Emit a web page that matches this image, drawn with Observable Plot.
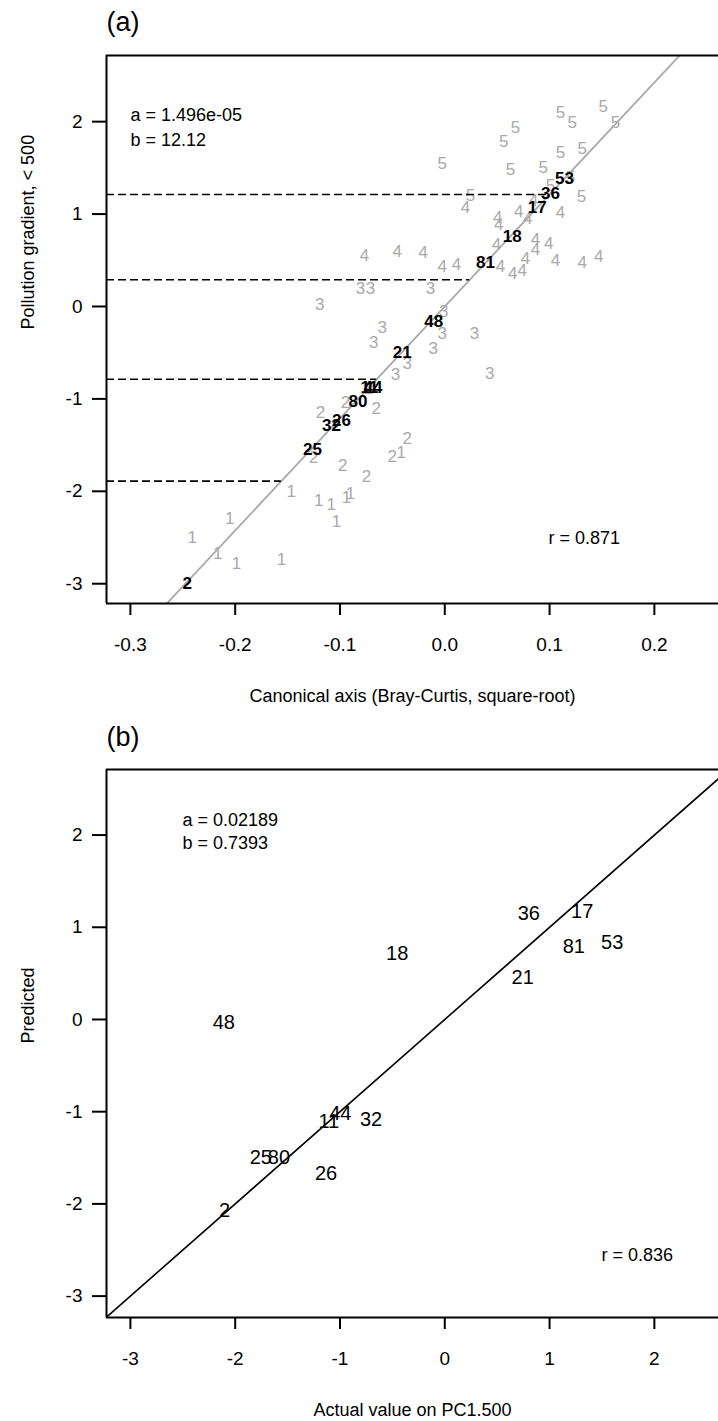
<!DOCTYPE html>
<html>
<head>
<meta charset="utf-8">
<script src="https://cdn.jsdelivr.net/npm/d3@7"></script>
<script src="https://cdn.jsdelivr.net/npm/@observablehq/plot@0.6"></script>
<style>
  html, body { margin: 0; padding: 0; background: #fff; }
  #chart svg { display: block; }
</style>
</head>
<body>
<div id="chart"></div>
<script>
// ---- Panel (a): reference sites, labelled by pollution class 1–5 ----
const refGroup = [
  "5","5","5","5","5","5","5","5","5","5","5","5","5","5","5",
  "4","4","4","4","4","4","4","4","4","4","4","4","4","4","4","4","4","4","4","4","4","4","4",
  "3","3","3","3","3","3","3","3","3","3","3","3","3",
  "2","2","2","2","2","2","2","2","2","2",
  "1","1","1","1","1","1","1","1","1","1","1","1"
];
const refCanonical = [
  0.1104, 0.1216, 0.1511, 0.1629, 0.0675, 0.0563, -0.0025, 0.1104, 0.1311, 0.0627, 0.0939, 0.1199, 0.1009, 0.1304, 0.0245,
  0.0198, 0.0506, 0.0515, 0.0706, 0.0792, 0.1104, 0.0493, 0.0865, 0.0992, 0.0865, 0.0770, 0.1056, 0.1311, 0.1469, 0.0531, 0.0649, 0.0739, -0.0025, 0.0112, -0.0206, -0.0454, -0.0766, 0.0846,
  -0.0805, -0.0709, -0.0136, -0.1193, -0.0010, -0.0597, -0.0677, -0.0025, 0.0283, -0.0111, -0.0359, -0.0470, 0.0429,
  -0.0948, -0.1186, -0.0655, -0.0725, -0.1043, -0.1250, -0.0973, -0.0747, -0.0502, -0.0359,
  -0.0416, -0.1466, -0.1202, -0.1084, -0.0938, -0.0900, -0.1033, -0.2052, -0.2410, -0.2166, -0.1988, -0.1558
];
const refGradient = [
  2.103, 1.995, 2.165, 1.995, 1.940, 1.789, 1.544, 1.663, 1.713, 1.483, 1.501, 1.393, 1.310, 1.190, 1.201,
  1.068, 0.966, 0.887, 1.031, 0.949, 1.014, 0.671, 0.722, 0.685, 0.614, 0.516, 0.498, 0.479, 0.544, 0.433, 0.360, 0.390, 0.433, 0.455, 0.588, 0.598, 0.552, 1.147,
  0.192, 0.192, 0.192, 0.022, -0.051, -0.224, -0.386, -0.295, -0.289, -0.458, -0.620, -0.739, -0.722,
  -1.036, -1.144, -1.107, -0.891, -1.288, -1.637, -1.721, -1.840, -1.623, -1.432,
  -1.577, -1.999, -2.100, -2.146, -2.070, -2.027, -2.327, -2.298, -2.503, -2.670, -2.785, -2.741
];

// Test sites placed on the canonical axis
const testSites     = ["2", "25", "32", "26", "80", "11", "44", "21", "48", "81", "18", "17", "36", "53"];
const testCanonical = [-0.2458, -0.1262, -0.1081, -0.0986, -0.0828, -0.0719, -0.0685, -0.0406, -0.0105, 0.0388, 0.0643, 0.0882, 0.1009, 0.1142];
const testGradient  = [-2.995, -1.548, -1.293, -1.231, -1.028, -0.877, -0.877, -0.495, -0.159, 0.479, 0.758, 1.075, 1.220, 1.382];

// Fitted calibration line and class boundaries
const fitA = 1.496e-05;
const fitB = 12.12;
const fitR = 0.871;
const classBreaks = [-1.89, -0.787, 0.289, 1.212];

// ---- Panel (b): actual vs predicted for the test sites ----
const actualPC = [-2.102, -1.756, -0.704, -1.133, -1.583, -1.107, -0.997, 0.744, -2.109, 1.231, -0.454, 1.311, 0.802, 1.597];
const predicted = [-2.072, -1.500, -1.088, -1.674, -1.500, -1.103, -1.023, 0.459, -0.036, 0.792, 0.713, 1.175, 1.146, 0.838];
const predA = 0.02189;
const predB = 0.7393;
const predR = 0.836;

// Tick labels
const xTicksA = [-0.3, -0.2, -0.1, 0.0, 0.1, 0.2];
const yTicksA = [-3, -2, -1, 0, 1, 2];
const xTicksB = [-3, -2, -1, 0, 1, 2];
const yTicksB = [-3, -2, -1, 0, 1, 2];

// ---- drawing ----
const font = "'Liberation Sans', Arial, Helvetica, sans-serif";
const gray = "#a9a9a9";
const W = 718;

// R-style scientific notation with a two-digit exponent (e.g. 1.496e-05)
function sci(v, digits) {
  const [m, e] = v.toExponential(digits).split("e");
  const n = Math.abs(+e);
  return `${m}e${+e < 0 ? "-" : "+"}${String(n).padStart(2, "0")}`;
}

const xDomA = [-0.3228, 0.2612], yDomA = [-3.214, 2.716];
const xDomB = [-3.228, 2.612],   yDomB = [-3.232, 2.711];

const refData = refGroup.map((g, i) => ({g, x: refCanonical[i], y: refGradient[i]}));
const testA = testSites.map((s, i) => ({s, x: testCanonical[i], y: testGradient[i]}));
const testB = testSites.map((s, i) => ({s, x: actualPC[i], y: predicted[i]}));

function frameLines(xd, yd) {
  return [
    Plot.ruleX([xd[0]], {stroke: "black", strokeWidth: 2}),
    Plot.ruleY([yd[0], yd[1]], {stroke: "black", strokeWidth: 2})
  ];
}

function axes(xt, yt, xfmt) {
  return [
    Plot.axisX(xt, {tickSize: 12, tickPadding: 22, strokeWidth: 2, fontSize: 19, label: null, tickFormat: xfmt}),
    Plot.axisY(yt, {tickSize: 14, tickPadding: 10, strokeWidth: 2, fontSize: 19, label: null, tickFormat: d => String(d)})
  ];
}

const plotA = Plot.plot({
  width: W, height: 712,
  marginLeft: 106, marginRight: 0, marginTop: 55, marginBottom: 109,
  style: {fontFamily: font, fontSize: "19px", background: "white", color: "black", overflow: "visible"},
  x: {domain: xDomA},
  y: {domain: yDomA},
  marks: [
    Plot.text(refData, {x: "x", y: "y", text: "g", fill: gray, fontSize: 17}),
    Plot.line(xDomA, {x: d => d, y: d => fitA + fitB * d, stroke: gray, strokeWidth: 1.8, clip: true}),
    Plot.ruleY(classBreaks, {y: d => d, x1: xDomA[0], x2: d => (d - fitA) / fitB,
      stroke: "black", strokeWidth: 1.6, strokeDasharray: "8,4"}),
    Plot.text(testA, {x: "x", y: "y", text: "s", fill: "black", fontWeight: "bold", fontSize: 17}),
    ...frameLines(xDomA, yDomA),
    ...axes(xTicksA, yTicksA, d => d.toFixed(1)),
    Plot.text([`a = ${sci(fitA, 3)}`], {text: d => d, frameAnchor: "top-left", textAnchor: "start", lineAnchor: "middle", dx: 24, dy: 60, fontSize: 18}),
    Plot.text([`b = ${fitB}`], {text: d => d, frameAnchor: "top-left", textAnchor: "start", lineAnchor: "middle", dx: 24, dy: 85, fontSize: 18}),
    Plot.text([`r = ${fitR}`], {text: d => d, frameAnchor: "bottom-right", textAnchor: "start", lineAnchor: "middle", dx: -170, dy: -65, fontSize: 18}),
    Plot.text(["(a)"], {text: d => d, frameAnchor: "top-left", textAnchor: "start", lineAnchor: "middle", dx: 0, dy: -33, fontSize: 27}),
    Plot.text(["Canonical axis (Bray-Curtis, square-root)"], {text: d => d, frameAnchor: "bottom", lineAnchor: "middle", dy: 93, fontSize: 18}),
    Plot.text(["Pollution gradient, < 500"], {text: d => d, frameAnchor: "left", lineAnchor: "middle", rotate: -90, dx: -78, fontSize: 18})
  ]
});

const plotB = Plot.plot({
  width: W, height: 709,
  marginLeft: 106, marginRight: 0, marginTop: 57, marginBottom: 104,
  style: {fontFamily: font, fontSize: "19px", background: "white", color: "black", overflow: "visible"},
  x: {domain: xDomB},
  y: {domain: yDomB},
  marks: [
    // 1:1 reference line
    Plot.line(xDomB, {x: d => d, y: d => d, stroke: "black", strokeWidth: 1.6, clip: true}),
    Plot.text(testB, {x: "x", y: "y", text: "s", fill: "black", fontSize: 20}),
    ...frameLines(xDomB, yDomB),
    ...axes(xTicksB, yTicksB, d => String(d)),
    Plot.text([`a = ${predA}`], {text: d => d, frameAnchor: "top-left", textAnchor: "start", lineAnchor: "middle", dx: 76, dy: 51, fontSize: 18}),
    Plot.text([`b = ${predB}`], {text: d => d, frameAnchor: "top-left", textAnchor: "start", lineAnchor: "middle", dx: 76, dy: 74, fontSize: 18}),
    Plot.text([`r = ${predR}`], {text: d => d, frameAnchor: "bottom-right", textAnchor: "start", lineAnchor: "middle", dx: -117, dy: -62, fontSize: 18}),
    Plot.text(["(b)"], {text: d => d, frameAnchor: "top-left", textAnchor: "start", lineAnchor: "middle", dx: 0, dy: -32, fontSize: 27}),
    Plot.text(["Actual value on PC1.500"], {text: d => d, frameAnchor: "bottom", lineAnchor: "middle", dy: 93, fontSize: 18}),
    Plot.text(["Predicted"], {text: d => d, frameAnchor: "left", lineAnchor: "middle", rotate: -90, dx: -78, fontSize: 18})
  ]
});

const root = document.getElementById("chart");
root.appendChild(plotA);
root.appendChild(plotB);
</script>
</body>
</html>
